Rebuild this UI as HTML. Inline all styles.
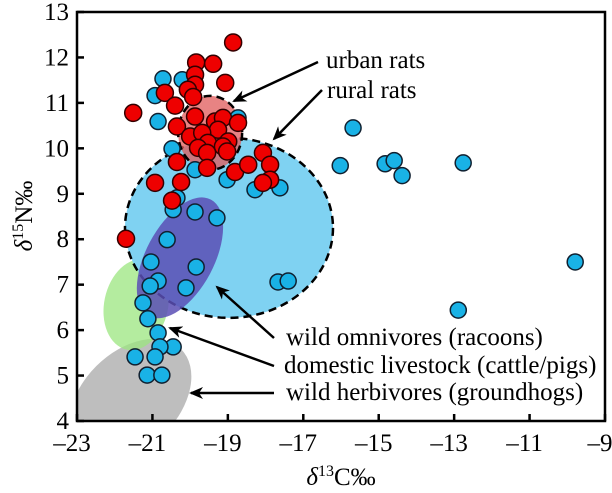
<!DOCTYPE html>
<html><head><meta charset="utf-8"><style>
body{margin:0;background:#fff}
svg{display:block;font-family:"Liberation Serif",serif}
</style></head><body>
<svg id="chart" width="612" height="493" viewBox="0 0 612 493" xmlns="http://www.w3.org/2000/svg">
<defs>
<clipPath id="plotclip"><rect x="77" y="12" width="528" height="409"/></clipPath>
<marker id="ah" markerWidth="14" markerHeight="12" refX="12" refY="6" orient="auto" markerUnits="userSpaceOnUse"><path d="M0,0 L14,6 L0,12 L4,6 Z" fill="#000"/></marker>
</defs>
<g id="regions" clip-path="url(#plotclip)"></g>
<g id="points"></g>
<g id="axes"></g>
<g id="notes"></g>
</svg>
<script>
const NS="http://www.w3.org/2000/svg";
const xTicks=[-23,-21,-19,-17,-15,-13,-11,-9];
const yTicks=[4,5,6,7,8,9,10,11,12,13];
const ratX=[-18.86,-19.84,-19.39,-19.87,-19.07,-19.87,-20.06,-20.67,-19.92,-20.40,-21.51,-19.87,-19.34,-19.13,-18.73,-20.35,-19.26,-20.00,-19.68,-18.99,-19.53,-19.79,-19.13,-19.55,-19.02,-20.35,-19.55,-18.81,-18.46,-18.07,-17.88,-17.88,-18.07,-20.93,-20.24,-20.48,-21.70];
const ratY=[12.33,11.89,11.86,11.62,11.44,11.40,11.29,11.22,11.13,10.94,10.78,10.70,10.59,10.67,10.56,10.48,10.41,10.26,10.34,10.15,10.12,10.01,10.04,9.90,9.93,9.70,9.57,9.48,9.64,9.90,9.64,9.31,9.24,9.24,9.26,8.85,8.01];
const wildX=[-20.72,-20.21,-20.93,-20.85,-20.48,-19.87,-19.02,-18.28,-17.62,-20.35,-20.45,-19.87,-19.29,-20.61,-18.73,-21.04,-19.84,-20.85,-21.06,-20.11,-21.25,-21.12,-20.85,-20.45,-20.80,-20.93,-21.46,-21.14,-20.75,-17.67,-17.40,-15.68,-16.02,-14.83,-14.59,-14.38,-12.76,-9.79,-12.89];
const wildY=[11.53,11.51,11.16,10.59,9.99,9.53,9.31,9.09,9.13,8.91,8.65,8.60,8.47,7.99,10.67,7.50,7.39,7.08,6.97,6.93,6.60,6.25,5.94,5.63,5.63,5.41,5.41,5.01,5.01,7.06,7.08,10.45,9.62,9.66,9.73,9.40,9.68,7.50,6.44];
const X0=77,X1=605,Y0=421,Y1=12;
function sx(v){return X0+(v+23)/14*(X1-X0);}
function sy(v){return Y0-(v-4)/9*(Y0-Y1);}
function mk(tag,attrs,parent,text){
 var e=document.createElementNS(NS,tag);
 for(var k in attrs){e.setAttribute(k,attrs[k]);}
 if(text!==undefined){e.textContent=text;}
 parent.appendChild(e);
 return e;
}
var reg=document.getElementById('regions');
function ell(cx,cy,rx,ry,rot,fill,op,name,dash){
 var px=sx(cx),py=sy(cy);
 var e=mk('ellipse',{cx:px,cy:py,rx:rx,ry:ry,transform:'rotate('+rot+' '+px+' '+py+')',fill:fill,'fill-opacity':op},reg);
 if(dash){e.setAttribute('stroke','#000');e.setAttribute('stroke-width','2.5');e.setAttribute('stroke-dasharray','8 5');}
 
 
}
ell(-21.59,4.46,72,48,-45,'#b3b3b3',0.85,'herbivore-region',false);
ell(-21.43,6.56,32,46,12,'#9be67f',0.75,'livestock-region',false);
ell(-18.97,8.25,104,90,0,'#7fd2f2',1,'rural-rat-region',true);
ell(-20.27,7.59,34,66,28,'#5b4fb5',0.85,'omnivore-region',false);
ell(-19.47,10.34,32,37,0,'#e05a5a',0.75,'urban-rat-region',true);
var pts=document.getElementById('points');
for(var i=0;i<wildX.length;i++){
 var c=mk('circle',{cx:sx(wildX[i]),cy:sy(wildY[i]),r:8,fill:'#19b2e6',stroke:'#102030','stroke-width':1.5},pts);
 
 
}
for(var j=0;j<ratX.length;j++){
 var r=mk('circle',{cx:sx(ratX[j]),cy:sy(ratY[j]),r:8.5,fill:'#ee0000',stroke:'#300','stroke-width':1.5},pts);
 
 
}
var ax=document.getElementById('axes');
var frame=mk('rect',{x:X0,y:Y1,width:X1-X0,height:Y0-Y1,fill:'none',stroke:'#000','stroke-width':2.5},ax);


xTicks.forEach(function(t){
 var l=mk('line',{x1:sx(t),x2:sx(t),y1:Y0,y2:Y0-7,stroke:'#000','stroke-width':2.5},ax);
 
 
 var tx=mk('text',{x:sx(t)-5,y:Y0+30,'text-anchor':'middle','font-size':25},ax,(t<0?'\u2013'+(-t):''+t));
 
 
});
yTicks.forEach(function(t){
 var l=mk('line',{x1:X0,x2:X0+7,y1:sy(t),y2:sy(t),stroke:'#000','stroke-width':2.5},ax);
 
 
 var tx=mk('text',{x:X0-8,y:sy(t)+8,'text-anchor':'end','font-size':25},ax,''+t);
 
 
});
var nt=document.getElementById('notes');
function arrow(x1,y1,x2,y2,name){
 var l=mk('line',{x1:x1,y1:y1,x2:x2,y2:y2,stroke:'#000','stroke-width':2.5,'marker-end':'url(#ah)'},nt);
 
 
}
function label(x,y,s,name){
 var t=mk('text',{x:x,y:y,'font-size':25},nt,s);
 
 
}
arrow(318,62,234,101,'urban-rats-arrow');
arrow(322,90,274,139,'rural-rats-arrow');
arrow(274,338,217,287,'omnivores-arrow');
arrow(274,366,170,328,'livestock-arrow');
arrow(274,393,191,393,'herbivores-arrow');
label(326,68,'urban rats','urban-rats-label');
label(327,98,'rural rats','rural-rats-label');
label(286,345,'wild omnivores (racoons)','omnivores-label');
label(284,373,'domestic livestock (cattle/pigs)','livestock-label');
label(286,400,'wild herbivores (groundhogs)','herbivores-label');
function title(attrs,sup,rest,name){
 var t=mk('text',attrs,ax);
 mk('tspan',{'font-style':'italic'},t,'\u03b4');
 mk('tspan',{'font-size':16,dy:-9},t,sup);
 mk('tspan',{dy:9},t,rest);
 
 
}
title({x:341,y:485,'text-anchor':'middle','font-size':25},'13','C\u2030','x-axis-title');
title({x:0,y:0,'text-anchor':'middle','font-size':25,transform:'translate(32 216) rotate(-90)'},'15','N\u2030','y-axis-title');
</script>
</body></html>
